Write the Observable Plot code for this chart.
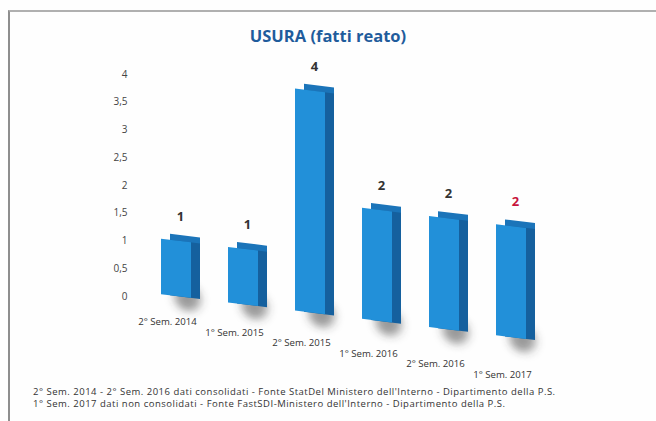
<!DOCTYPE html>
<html><head><meta charset="utf-8">
<script src="https://cdn.jsdelivr.net/npm/d3@7"></script>
<script src="https://cdn.jsdelivr.net/npm/@observablehq/plot@0.6"></script>
<style>
html,body{margin:0;padding:0;background:#fff;}
#wrap{position:relative;width:656px;height:421px;overflow:hidden;font-family:"Open Sans",sans-serif;background:#fefefe;}
#frame{position:absolute;left:8px;top:10px;width:700px;height:450px;border-top:2px solid #b0b0b0;border-left:2px solid #8e8e8e;}
#title{position:absolute;left:0;width:656px;top:24px;text-align:center;font-weight:bold;font-size:16.5px;color:#1f5c9c;}
#chart{position:absolute;left:0;top:50px;}
#caption{position:absolute;left:33px;top:386px;font-size:9.5px;letter-spacing:0.5px;color:#333;line-height:12px;white-space:nowrap;}
</style></head>
<body><div id="wrap"><div id="frame"></div><div id="title"></div><div id="chart"></div><div id="caption"></div></div>
<script>
const title = "USURA (fatti reato)";
const categories = ["2° Sem. 2014","1° Sem. 2015","2° Sem. 2015","1° Sem. 2016","2° Sem. 2016","1° Sem. 2017"];
const values = [1, 1, 4, 2, 2, 2];
const valueLabels = ["1","1","4","2","2","2"];
const labelColors = ["#333333","#333333","#333333","#333333","#333333","#c8143c"];
const yTicks = [0, 0.5, 1, 1.5, 2, 2.5, 3, 3.5, 4];
const captionLines = [
  "2° Sem. 2014 - 2° Sem. 2016 dati consolidati - Fonte StatDel Ministero dell'Interno - Dipartimento della P.S.",
  "1° Sem. 2017 dati non consolidati - Fonte FastSDI-Ministero dell'Interno - Dipartimento della P.S."
];

document.getElementById("title").textContent = title;
const cap = document.getElementById("caption");
captionLines.forEach(t => { const d = document.createElement("div"); d.textContent = t; cap.appendChild(d); });

const data = categories.map((c, i) => ({cat: c, value: values[i], label: valueLabels[i], color: labelColors[i]}));

const chart = Plot.plot({
  width: 656, height: 330,
  marginTop: 24, marginBottom: 84, marginLeft: 141, marginRight: 110,
  style: {background: "transparent", fontFamily: "Open Sans", overflow: "visible"},
  x: {domain: categories, paddingInner: 0.55, paddingOuter: 0.275, axis: null},
  y: {domain: [0, 4], axis: null},
  color: {type: "identity"},
  marks: [
    Plot.axisY({ticks: yTicks, tickSize: 0, tickPadding: 14, tickFormat: d => String(d).replace(".", ","), fontSize: 10, fill: "#444", label: null}),
    Plot.dot(data, {x: "cat", y: 0, r: 13, dx: 11, dy: 0, fill: "#3a3a3a", fillOpacity: 0.5, ariaDescription: "shadow"}),
    Plot.barY(data, {x: "cat", y: "value", dx: 9, dy: -6, fill: "#1b74b9", ariaDescription: "skew"}),
    Plot.barY(data, {x: "cat", y: "value", dx: 9, fill: "#15609e", ariaDescription: "skew"}),
    Plot.barY(data, {x: "cat", y: "value", fill: "#2290d9", ariaDescription: "skew"}),
    Plot.text(data, {x: "cat", y: "value", text: "label", fill: "color", dy: -25, dx: 4, fontSize: 13, fontWeight: "bold", ariaDescription: "skew"}),
    Plot.axisX({tickSize: 0, tickPadding: 23, fontSize: 9.6, fill: "#333", label: null, dx: -9, ariaDescription: "axisx"})
  ]
});
document.getElementById("chart").appendChild(chart);

const svg = d3.select(chart.tagName.toLowerCase() === "svg" ? chart : chart.querySelector("svg"));
const xs = chart.scale("x");
const ox = xs.apply(categories[0]) + xs.bandwidth / 2;

svg.insert("defs", ":first-child").html('<filter id="shblur" x="-80%" y="-80%" width="260%" height="260%"><feGaussianBlur stdDeviation="4.5"/></filter>');

function skewGroup(sel, deg) {
  sel.each(function() {
    const g = d3.select(this);
    const prev = g.attr("transform") || "";
    g.attr("transform", `translate(${ox},0) skewY(${deg}) translate(${-ox},0) ${prev}`);
    g.selectAll("text").each(function() {
      const t = d3.select(this);
      const tp = t.attr("transform") || "";
      t.attr("transform", `${tp} skewY(${-deg})`);
    });
  });
}
skewGroup(svg.selectAll('g[aria-description="skew"]'), 7);
skewGroup(svg.selectAll('g[aria-description="shadow"]'), 7);
svg.selectAll('g[aria-description="shadow"]').attr("filter", "url(#shblur)");
let ax = svg.selectAll('g[aria-description="axisx"]');
if (ax.empty()) ax = svg.selectAll('g[aria-label="x-axis tick label"]');
skewGroup(ax, 9);
</script>
</body></html>
